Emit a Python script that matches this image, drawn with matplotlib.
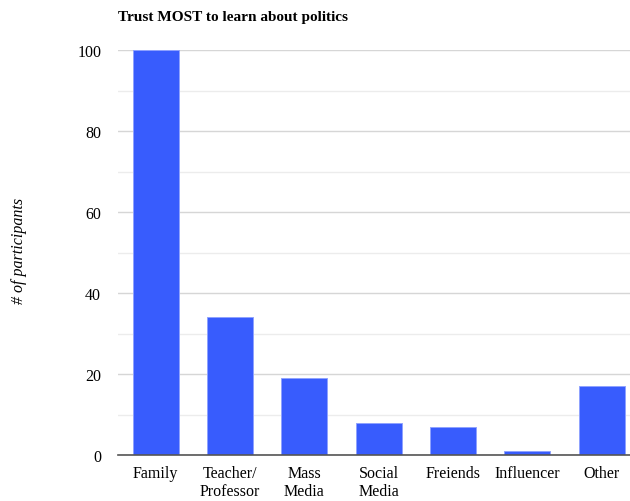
import numpy as np
import matplotlib.pyplot as plt

plt.rcParams['font.family'] = ['Liberation Serif', 'DejaVu Serif']

categories = ['Family', 'Teacher/\nProfessor', 'Mass\nMedia', 'Social\nMedia',
              'Freiends', 'Influencer', 'Other']
counts = [100, 34, 19, 8, 7, 1, 17]
yticks = [0, 20, 40, 60, 80, 100]

fig = plt.figure(figsize=(6.3, 5.02), dpi=100)
ax = fig.add_axes([0.187, 0.0916, 0.813, 0.8064])

x = np.arange(len(categories))
ax.bar(x, counts, width=0.62, color='#385cfd', edgecolor='#8fa2ff', linewidth=0.7, zorder=3)

ax.set_ylim(0, 100)
ax.set_xlim(-0.51, 6.38)
ax.set_yticks(yticks)
ax.set_yticks(np.arange(10, 100, 20), minor=True)
ax.tick_params(axis='y', which='both', length=0, labelsize=11.5, pad=12)
ax.tick_params(axis='x', length=0, labelsize=11.5, pad=7)
ax.set_xticks(x)
ax.set_xticklabels(categories, va='top', linespacing=1.15)
ax.grid(axis='y', which='major', color='#d6d6d6', linewidth=1, zorder=0)
ax.grid(axis='y', which='minor', color='#ececec', linewidth=1, zorder=0)
for s in ['top', 'right', 'left']:
    ax.spines[s].set_visible(False)
ax.spines['bottom'].set_color('#555555')
ax.spines['bottom'].set_linewidth(1.2)
ax.spines['bottom'].set_zorder(4)

fig.text(0.187, 0.966, 'Trust MOST to learn about politics', fontsize=11,
         fontweight='bold', ha='left', va='center')
fig.text(0.03, 0.5, '# of participants', fontsize=11.5, style='italic',
         rotation=90, ha='center', va='center')

fig.savefig('out.png', dpi=100)
